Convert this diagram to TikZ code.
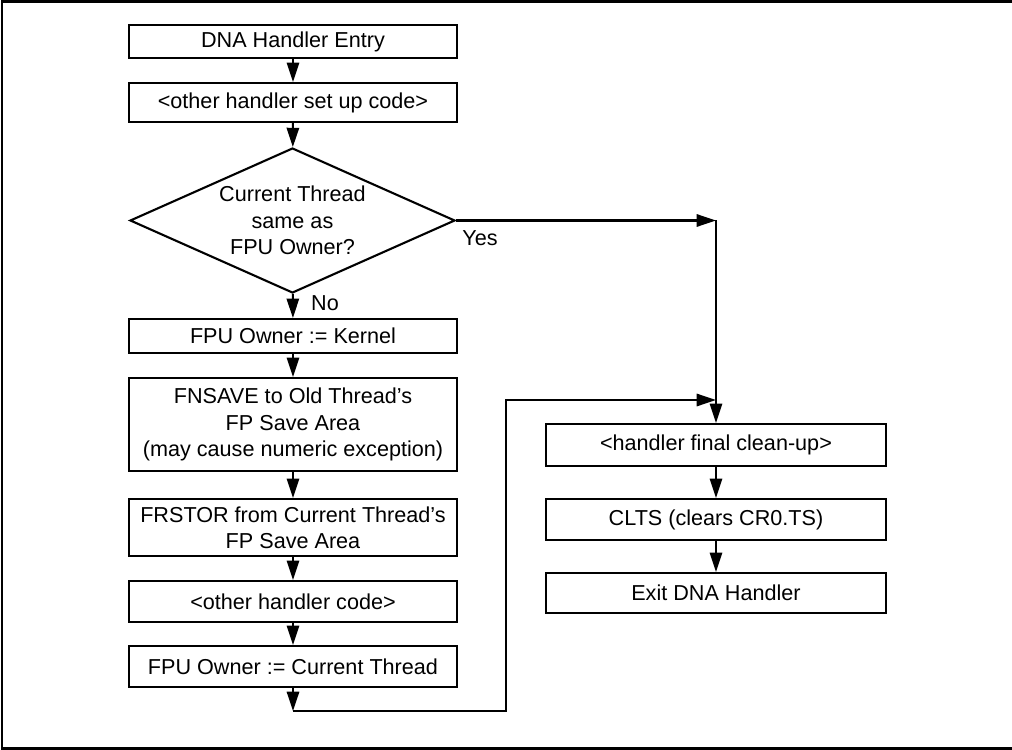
\documentclass[tikz,border=0pt]{standalone}
\usepackage{fontspec}
\setmainfont{Liberation Sans}
\usetikzlibrary{shapes.geometric,arrows.meta}
\begin{document}
\begin{tikzpicture}[x=0.02cm, y=-0.02cm, line width=1.2pt,
  font=\fontsize{12.3}{15}\selectfont,
  blk/.style={draw, rectangle, inner sep=0pt, align=center, minimum width=6.56cm},
  rblk/.style={blk, minimum width=6.8cm},
  dec/.style={draw, diamond, inner sep=0pt, aspect=2.24, align=center,
    minimum width=6.5cm, minimum height=2.9cm},
  arr/.style={-{Triangle[length=11pt,width=7pt]}}]
\useasboundingbox (0,0) rectangle (1012,750);
\draw (1012,1.5) -- (2,1.5) -- (2,748.5) -- (1012,748.5);
\node[blk, minimum height=0.66cm] (entry) at (293,41.5) {DNA Handler Entry};
\node[blk, minimum height=0.78cm] (setup) at (293,102.5) {<other handler set up code>};
\node[dec] (same) at (292.5,220.5) {Current Thread\\same as\\FPU Owner?};
\node[blk, minimum height=0.68cm] (kern) at (293,336) {FPU Owner := Kernel};
\node[blk, minimum height=1.86cm] (fnsave) at (293,424.5)
  {FNSAVE to Old Thread’s\\FP Save Area\\(may cause numeric exception)};
\node[blk, minimum height=1.14cm] (frstor) at (293,527.5) {FRSTOR from Current Thread’s\\FP Save Area};
\node[blk, minimum height=0.82cm] (other) at (293,601.5) {<other handler code>};
\node[blk, minimum height=0.82cm] (curr) at (293,666.5) {FPU Owner := Current Thread};
\node[rblk, minimum height=0.84cm] (clean) at (716,445) {<handler final clean-up>};
\node[rblk, minimum height=0.82cm] (clts) at (716,519.5) {CLTS (clears CR0.TS)};
\node[rblk, minimum height=0.80cm] (exit) at (716,593) {Exit DNA Handler};
\node (no) at (325,303) {No};
\node (yes) at (480,238) {Yes};
\coordinate (yc) at (716,220.5);
\coordinate (join) at (716,400);
\coordinate (lp0) at (293,711);
\coordinate (lp1) at (506,400);
\draw[arr] (entry) -- (setup);
\draw[arr] (setup) -- (same);
\draw[arr] (same) -- (kern);
\draw[arr] (kern) -- (fnsave);
\draw[arr] (fnsave) -- (frstor);
\draw[arr] (frstor) -- (other);
\draw[arr] (other) -- (curr);
\draw[arr] (curr) -- (lp0);
\draw[arr] (lp0) -| (lp1) -- (join);
\draw[arr] (same.east) -- (yc);
\draw[arr] (yc) -- (clean);
\draw[arr] (clean) -- (clts);
\draw[arr] (clts) -- (exit);
\end{tikzpicture}
\end{document}
